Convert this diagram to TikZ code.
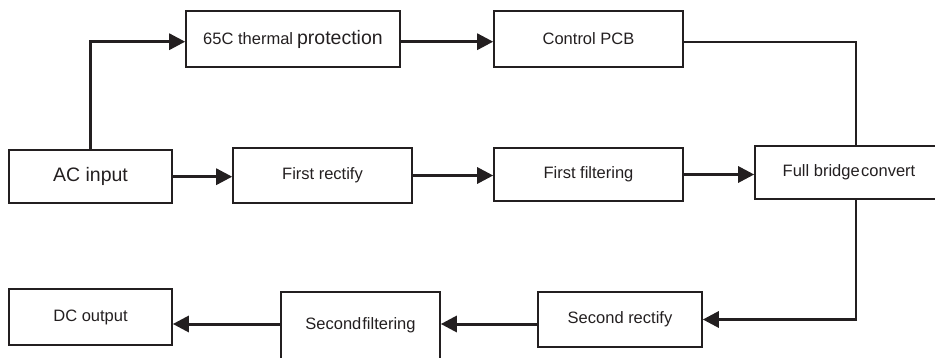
\documentclass[tikz,border=0pt]{standalone}
\usepackage{fontspec}
\setmainfont{Liberation Sans}
\usetikzlibrary{arrows.meta}
\definecolor{ink}{HTML}{231F20}
\tikzset{
  blk/.style={draw=ink, line width=1.6pt, rectangle, inner sep=0pt, text=ink,
    font=\fontsize{16.5}{18}\selectfont},
  thin line/.style={draw=ink, line width=2pt},
  flow/.style={draw=ink, line width=3pt, -{Triangle[length=16pt,width=16pt]}},
}
\begin{document}
\begin{tikzpicture}[x=1pt,y=-1pt]
\useasboundingbox (0,0) rectangle (935,358);
\node[blk, minimum width=163pt, minimum height=53pt] (ac) at (90.5,176.5) {\raisebox{-1.5pt}{\fontsize{19.5}{21}\selectfont AC input}};
\node[blk, minimum width=214pt, minimum height=56pt] (therm) at (293,39) {\raisebox{-2.5pt}{65C thermal}\hspace{4pt}\raisebox{-2pt}{\fontsize{19.5}{21}\selectfont protection}};
\node[blk, minimum width=189pt, minimum height=56pt] (pcb) at (588.5,39) {\raisebox{-2.5pt}{Control PCB}};
\node[blk, minimum width=179pt, minimum height=55pt] (r1) at (322.5,175.5) {\raisebox{-1.5pt}{First rectify}};
\node[blk, minimum width=189pt, minimum height=53pt] (f1) at (588.5,174.5) {First filtering};
\node[blk, minimum width=202pt, minimum height=53pt] (fb) at (856,172.5) {\hspace*{-14pt}Full bridge\hspace{1.5pt}convert};
\node[blk, minimum width=164pt, minimum height=55pt] (r2) at (620,319.5) {\raisebox{2pt}{Second rectify}};
\node[blk, minimum width=159pt, minimum height=67pt] (f2) at (360.5,325.5) {Second\hspace{1pt}filtering};
\node[blk, minimum width=163pt, minimum height=56pt] (dc) at (90.5,317) {DC output};

\draw[flow] (ac.north) |- ([yshift=-2.7pt]therm.west);
\draw[flow] ([yshift=-2.7pt]therm.east) -- ([yshift=-2.7pt]pcb.west);
\draw[thin line] ([yshift=-2.7pt]pcb.east) -| (fb.north);
\draw[flow] ([yshift=-0.2pt]ac.east) -- ([yshift=-0.2pt]ac.east -| r1.west);
\draw[flow] (r1.east) -- (r1.east -| f1.west);
\draw[flow] (f1.east) -- (f1.east -| fb.west);
\coordinate (turn) at (fb.south |- r2.east);
\draw[thin line] (fb.south) -- (turn);
\draw[flow] ([xshift=1pt]turn) -- (r2.east);
\draw[flow] ([yshift=1.5pt]f2.east -| r2.west) -- ([yshift=1.5pt]f2.east);
\draw[flow] ([yshift=1.5pt]f2.west) -- ([yshift=1.5pt]f2.west -| dc.east);
\end{tikzpicture}
\end{document}
